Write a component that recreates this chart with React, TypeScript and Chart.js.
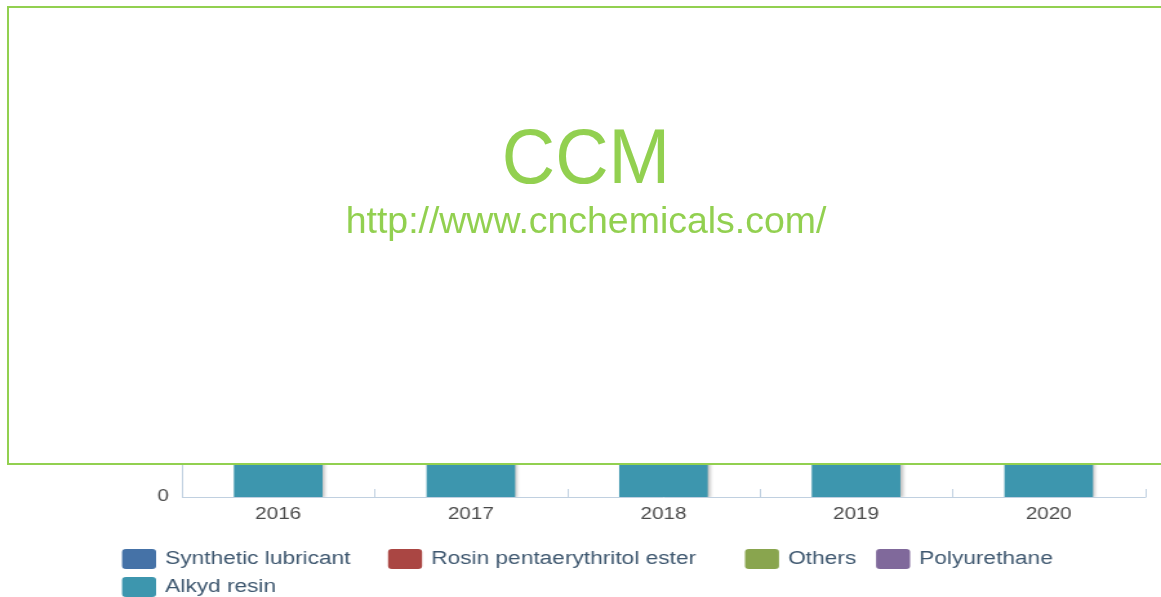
import React, { useEffect, useRef } from 'react';
import { Chart, registerables } from 'chart.js';

Chart.register(...registerables);

// ---------- data ----------
const categories = ['2016', '2017', '2018', '2019', '2020'];
const syntheticLubricant = [26000, 28500, 31000, 33500, 36000];
const rosinPentaerythritolEster = [31000, 31500, 32500, 33000, 34000];
const others = [44000, 45500, 47000, 48500, 50000];
const polyurethane = [38000, 40500, 43000, 45500, 48000];
const alkydResin = [104000, 106500, 109000, 112000, 115000];

const seriesNames = ['Synthetic lubricant', 'Rosin pentaerythritol ester', 'Others', 'Polyurethane', 'Alkyd resin'];
const seriesValues = [syntheticLubricant, rosinPentaerythritolEster, others, polyurethane, alkydResin];

// ---------- styles ----------
const seriesColors = ['#4572A7', '#AA4643', '#89A54E', '#80699B', '#3D96AE'];
const FONT = '"Liberation Sans", Arial, Helvetica, sans-serif';
const CANVAS_W = 900;
const CANVAS_H = 597;
const STRETCH = 1161 / CANVAS_W;
const AXIS_COLOR = '#C0D0E0';
const LABEL_COLOR = '#4a4a4a';
const LEGEND_TEXT = '#3E576F';
const WATERMARK = '#92D050';

const legendLayout = [
  { x: 94.6, y: 559 },
  { x: 300.8, y: 559 },
  { x: 577.5, y: 559 },
  { x: 679.1, y: 559 },
  { x: 94.6, y: 587 },
];

const shadowPlugin = {
  id: 'barShadow',
  beforeDatasetsDraw(chart: any) {
    const c = chart.ctx;
    c.save();
    c.shadowColor = 'rgba(0,0,0,0.28)';
    c.shadowBlur = 3;
    c.shadowOffsetX = 2;
    c.shadowOffsetY = 1;
  },
  afterDatasetsDraw(chart: any) {
    chart.ctx.restore();
  },
};

const insideTicksPlugin = {
  id: 'insideTicks',
  afterDraw(chart: any) {
    const xs = chart.scales.x;
    const n = xs.ticks.length;
    const c = chart.ctx;
    c.save();
    c.strokeStyle = AXIS_COLOR;
    c.lineWidth = 1;
    c.beginPath();
    for (let i = 0; i <= n; i++) {
      const px = Math.round(xs.left + (xs.width * i) / n) + 0.5;
      c.moveTo(px, xs.top - 8);
      c.lineTo(px, xs.top + 0.5);
    }
    c.stroke();
    c.restore();
  },
};

const legendPlugin = {
  id: 'ccmLegend',
  afterDraw(chart: any) {
    const c = chart.ctx;
    const bw = 26.4;
    const bh = 20;
    c.save();
    c.font = `17.6px ${FONT}`;
    c.textBaseline = 'middle';
    c.textAlign = 'left';
    seriesNames.forEach((name, i) => {
      const pos = legendLayout[i];
      c.fillStyle = seriesColors[i];
      c.beginPath();
      if ((c as any).roundRect) (c as any).roundRect(pos.x, pos.y - bh / 2, bw, bh, 3);
      else c.rect(pos.x, pos.y - bh / 2, bw, bh);
      c.fill();
      c.fillStyle = LEGEND_TEXT;
      c.fillText(name, pos.x + bw + 7, pos.y);
    });
    c.restore();
  },
};

export default function App() {
  const canvasRef = useRef<HTMLCanvasElement>(null);

  useEffect(() => {
    const canvas = canvasRef.current;
    if (!canvas) return;
    const datasets = seriesNames.map((name, i) => ({
      label: name,
      data: seriesValues[i],
      backgroundColor: seriesColors[i],
      borderWidth: 0,
      categoryPercentage: 1,
      barPercentage: 0.46,
    }));
    // first series sits on top of the stack, so stack them in reverse
    const chart = new Chart(canvas, {
      type: 'bar',
      data: { labels: categories, datasets: datasets.slice().reverse() },
      options: {
        responsive: false,
        animation: false,
        devicePixelRatio: 1,
        layout: { padding: { top: 30, right: 12.4, bottom: 70, left: 0 } },
        plugins: {
          legend: { display: false },
          tooltip: { enabled: false },
          title: { display: false },
        },
        scales: {
          x: {
            stacked: true,
            grid: { display: false },
            border: { display: true, color: AXIS_COLOR, width: 1 },
            ticks: {
              color: LABEL_COLOR,
              font: { family: FONT, size: 16 },
              padding: 0,
              maxRotation: 0,
            },
            afterFit: (s: any) => {
              s.height = 30;
            },
          },
          y: {
            stacked: true,
            beginAtZero: true,
            grid: { display: false },
            border: { display: true, color: AXIS_COLOR, width: 1 },
            ticks: {
              color: LABEL_COLOR,
              font: { family: FONT, size: 16 },
              padding: 2,
            },
            afterFit: (s: any) => {
              s.width = 141;
            },
          },
        },
      } as any,
      plugins: [shadowPlugin, insideTicksPlugin, legendPlugin],
    });
    return () => chart.destroy();
  }, []);

  return (
    <div
      style={{
        position: 'fixed',
        left: 0,
        top: 0,
        width: 1161,
        height: 597,
        overflow: 'hidden',
        background: '#fff',
      }}
    >
      <div
        style={{
          position: 'absolute',
          left: 0,
          top: 0,
          width: CANVAS_W,
          height: CANVAS_H,
          transform: `scaleX(${STRETCH})`,
          transformOrigin: '0 0',
        }}
      >
        <canvas ref={canvasRef} width={CANVAS_W} height={CANVAS_H} />
      </div>
      <div
        style={{
          position: 'absolute',
          left: 7,
          top: 6,
          width: 1158,
          height: 459,
          boxSizing: 'border-box',
          border: `2px solid ${WATERMARK}`,
          background: '#fff',
          fontFamily: FONT,
          color: WATERMARK,
        }}
      >
        <div
          style={{
            position: 'absolute',
            left: 0,
            right: 0,
            top: 110,
            fontSize: 77,
            lineHeight: '77px',
            textAlign: 'center',
            whiteSpace: 'nowrap',
            transform: 'scaleX(0.96)',
          }}
        >
          CCM
        </div>
        <div
          style={{
            position: 'absolute',
            left: 0,
            right: 0,
            top: 194.5,
            fontSize: 36,
            lineHeight: '36px',
            textAlign: 'center',
            whiteSpace: 'nowrap',
            transform: 'scaleX(1.04)',
          }}
        >
          http://www.cnchemicals.com/
        </div>
      </div>
    </div>
  );
}
